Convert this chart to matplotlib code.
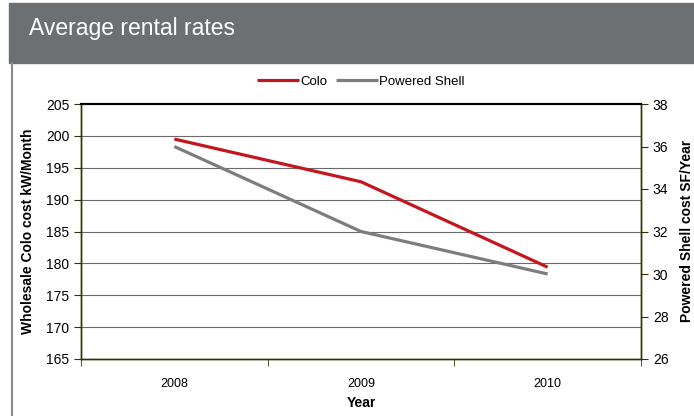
import matplotlib
matplotlib.use("Agg")
import matplotlib.pyplot as plt
from matplotlib.patches import Rectangle
from matplotlib.lines import Line2D

plt.rcParams['font.family'] = ['Liberation Sans', 'DejaVu Sans']

years = ['2008', '2009', '2010']
colo = [199.5, 192.8, 179.4]          # $/kW/month
powered_shell = [36.0, 32.0, 30.0]    # $/SF/year

x = list(range(len(years)))

fig = plt.figure(figsize=(6.94, 4.16), dpi=100)

# header band + left rule
fig.patches.append(Rectangle((9 / 694, (416 - 63) / 416), 1, 60 / 416,
                             transform=fig.transFigure, color='#6d7073', zorder=0))
fig.add_artist(Line2D([12 / 694, 12 / 694], [0, (416 - 63) / 416],
                      transform=fig.transFigure, color='#8a8a8a', lw=1.5))
fig.text(29 / 694, (416 - 35) / 416, 'Average rental rates', color='white',
         fontsize=16.5, va='baseline', ha='left')

ax = fig.add_axes([81 / 694, (416 - 359) / 416, 560 / 694, 255 / 416])
ax2 = ax.twinx()

l1, = ax.plot(x, colo, color='#c3161f', lw=2.3, solid_capstyle='butt', zorder=3)
l2, = ax2.plot(x, powered_shell, color='#7b7d7e', lw=2.3, solid_capstyle='butt', zorder=2)

ax.set_xlim(-0.5, 2.5)
ax.set_ylim(165, 205)
ax.set_yticks(range(165, 206, 5))
ax2.set_ylim(26, 38)
ax2.set_yticks(range(26, 39, 2))

ax.set_xticks(x)
ax.set_xticklabels(years)
ax.set_xticks([-0.5, 0.5, 1.5, 2.5], minor=True)
ax.tick_params(axis='x', which='major', length=0, pad=14, labelsize=9)
ax.tick_params(axis='x', which='minor', length=5, direction='out', color='#333300')
ax.tick_params(axis='y', length=5, direction='out', color='#333300', labelsize=10)
ax2.tick_params(axis='y', length=5, direction='out', color='#333300', labelsize=10)

for v in range(170, 205, 5):
    ax.axhline(v, color='#6a6a6a', lw=0.8, zorder=1)

for a in (ax, ax2):
    for s in a.spines.values():
        s.set_color('#333300')
        s.set_linewidth(1.0)
    a.spines['top'].set_color('black')
    a.spines['top'].set_linewidth(1.5)

ax.set_xlabel('Year', fontweight='bold', fontsize=10, labelpad=4)
ax.set_ylabel('Wholesale Colo cost kW/Month', fontweight='bold', fontsize=10, labelpad=8)
fig.text(687 / 694, (416 - 231) / 416, 'Powered Shell cost SF/Year', rotation=90,
         fontweight='bold', fontsize=10, ha='center', va='center')

fig.legend([l1, l2], ['Colo', 'Powered Shell'], loc='center',
           bbox_to_anchor=(361 / 694, (416 - 82) / 416), ncol=2, frameon=False,
           fontsize=9.5, handlelength=3.2, handletextpad=0.1, columnspacing=0.6)

fig.savefig('out.png', dpi=100)
